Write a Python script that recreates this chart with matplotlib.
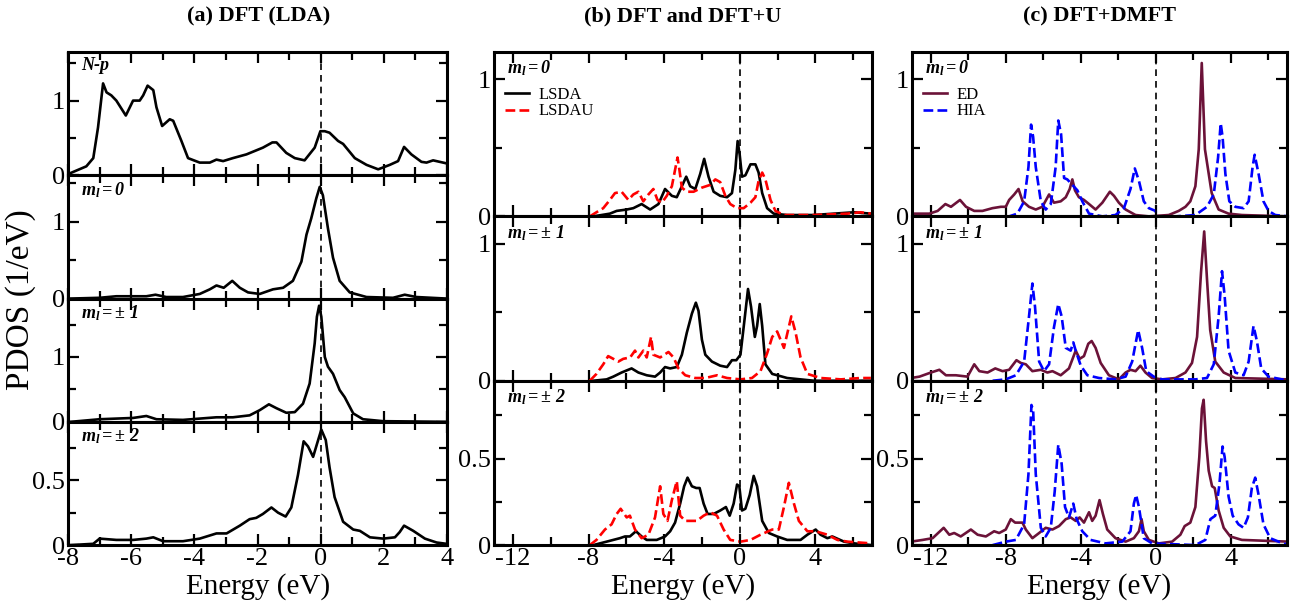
import matplotlib
matplotlib.use('Agg')
import matplotlib.pyplot as plt
from matplotlib.ticker import MultipleLocator, FuncFormatter

plt.rcParams['font.family'] = 'Liberation Serif'
plt.rcParams['mathtext.fontset'] = 'custom'
plt.rcParams['mathtext.rm'] = 'Liberation Serif:italic:bold'
plt.rcParams['mathtext.it'] = 'Liberation Serif:italic:bold'
plt.rcParams['mathtext.bf'] = 'Liberation Serif:italic:bold'
plt.rcParams['axes.unicode_minus'] = False

# ---- (a) DFT (LDA) ----
a_np_E = [-7.92, -7.42, -7.2, -7.05, -6.89, -6.78, -6.63, -6.47, -6.17, -5.94, -5.73, -5.62, -5.48, -5.3, -5.2,
          -5.02, -4.78, -4.67, -4.41, -4.2, -3.83, -3.51, -3.3, -3.09, -2.78, -2.35, -1.83, -1.53, -1.4, -1.09,
          -0.82, -0.51, -0.19, -0.01, 0.13, 0.28, 0.55, 0.71, 1.08, 1.45, 1.82, 2.19, 2.45, 2.64, 2.87, 3.19,
          3.35, 3.56, 3.98]
a_np = [0.03, 0.12, 0.23, 0.64, 1.23, 1.11, 1.07, 1.0, 0.8, 1.0, 1.0, 1.07, 1.2, 1.14, 0.91,
        0.66, 0.75, 0.73, 0.46, 0.23, 0.17, 0.17, 0.21, 0.19, 0.23, 0.28, 0.37, 0.44, 0.44, 0.3,
        0.23, 0.2, 0.37, 0.59, 0.59, 0.57, 0.46, 0.42, 0.23, 0.14, 0.08, 0.14, 0.19, 0.38, 0.28, 0.18,
        0.17, 0.2, 0.16]

a_m0_E = [-7.92, -7.0, -6.47, -5.94, -5.52, -5.23, -4.89, -4.36, -3.83, -3.51, -3.3, -3.07, -2.8, -2.56, -2.3,
          -1.93, -1.51, -1.19, -0.88, -0.61, -0.45, -0.3, -0.14, -0.03, 0.07, 0.23, 0.39, 0.6, 0.92, 1.45,
          2.29, 2.66, 3.03, 3.98]
a_m0 = [0.0, 0.01, 0.03, 0.03, 0.03, 0.05, 0.02, 0.02, 0.06, 0.12, 0.17, 0.14, 0.23, 0.14, 0.08,
        0.06, 0.12, 0.14, 0.23, 0.48, 0.83, 1.04, 1.3, 1.45, 1.34, 0.91, 0.53, 0.23, 0.08, 0.02,
        0.01, 0.05, 0.02, 0.0]

a_m1_E = [-7.92, -7.0, -6.47, -5.94, -5.52, -5.2, -4.36, -3.3, -2.78, -2.25, -1.93, -1.64, -1.4, -1.09, -0.82,
          -0.56, -0.35, -0.19, -0.12, -0.05, 0.02, 0.13, 0.23, 0.39, 0.6, 0.76, 1.03, 1.34, 1.98, 3.98]
a_m1 = [0.0, 0.04, 0.05, 0.06, 0.09, 0.04, 0.03, 0.07, 0.07, 0.1, 0.18, 0.27, 0.21, 0.14, 0.15,
        0.28, 0.59, 1.21, 1.62, 1.79, 1.62, 1.0, 0.85, 0.74, 0.49, 0.38, 0.13, 0.04, 0.01, 0.0]

a_m2_E = [-7.92, -7.2, -7.0, -6.47, -5.94, -5.52, -5.3, -4.99, -4.36, -3.83, -3.3, -2.98, -2.56, -2.25, -2.04,
          -1.83, -1.56, -1.35, -1.11, -0.93, -0.72, -0.54, -0.4, -0.24, -0.08, 0.02, 0.16, 0.28, 0.44, 0.71,
          1.03, 1.24, 1.56, 1.98, 2.35, 2.5, 2.64, 2.93, 3.3, 3.67, 3.98]
a_m2 = [0.0, 0.01, 0.05, 0.04, 0.04, 0.05, 0.06, 0.03, 0.03, 0.05, 0.09, 0.09, 0.15, 0.2, 0.21,
        0.24, 0.29, 0.25, 0.22, 0.29, 0.54, 0.8, 0.76, 0.68, 0.81, 0.89, 0.81, 0.6, 0.37, 0.18,
        0.12, 0.11, 0.06, 0.05, 0.06, 0.1, 0.15, 0.11, 0.05, 0.02, 0.01]

# ---- (b) DFT and DFT+U ----
b0_lsda_E = [-7.75, -6.87, -6.51, -5.98, -5.63, -5.19, -4.74, -4.3, -3.95, -3.59, -3.33, -3.06, -2.83, -2.62,
             -2.35, -2.09, -1.88, -1.65, -1.38, -1.03, -0.67, -0.41, -0.23, -0.11, 0.0, 0.12, 0.3, 0.57, 0.83,
             1.0, 1.19, 1.45, 1.8, 2.5, 3.9, 6.05, 6.94]
b0_lsda = [0.0, 0.02, 0.04, 0.05, 0.06, 0.09, 0.05, 0.09, 0.2, 0.15, 0.14, 0.22, 0.29, 0.22,
           0.2, 0.31, 0.42, 0.29, 0.18, 0.15, 0.14, 0.17, 0.34, 0.55, 0.45, 0.29, 0.3, 0.38, 0.38,
           0.32, 0.17, 0.06, 0.02, 0.01, 0.01, 0.03, 0.02]
b0_lsdau_E = [-7.93, -7.58, -7.22, -6.87, -6.6, -6.25, -5.89, -5.63, -5.36, -5.1, -4.83, -4.57, -4.35, -4.12,
              -3.86, -3.59, -3.42, -3.29, -3.19, -3.06, -2.8, -2.44, -2.0, -1.56, -1.29, -1.03, -0.76, -0.5,
              -0.14, 0.21, 0.57, 0.83, 1.0, 1.19, 1.36, 1.63, 1.89, 2.34, 3.93, 5.7, 6.4, 6.94]
b0_lsdau = [0.0, 0.03, 0.06, 0.12, 0.17, 0.18, 0.12, 0.16, 0.18, 0.11, 0.16, 0.2, 0.12, 0.1,
            0.15, 0.22, 0.34, 0.43, 0.34, 0.21, 0.18, 0.18, 0.21, 0.23, 0.27, 0.25, 0.15, 0.09,
            0.06, 0.06, 0.1, 0.14, 0.26, 0.32, 0.27, 0.12, 0.04, 0.01, 0.01, 0.02, 0.03, 0.02]

b1_lsda_E = [-7.75, -7.04, -6.69, -6.25, -5.72, -5.36, -4.92, -4.48, -4.21, -3.95, -3.68, -3.33, -3.06, -2.8,
             -2.53, -2.32, -2.18, -2.0, -1.82, -1.47, -1.03, -0.67, -0.41, -0.18, 0.04, 0.25, 0.44, 0.6, 0.8,
             0.92, 1.06, 1.19, 1.36, 1.72, 2.51, 3.93, 6.94]
b1_lsda = [0.0, 0.01, 0.03, 0.06, 0.09, 0.06, 0.04, 0.03, 0.06, 0.1, 0.09, 0.1, 0.19, 0.35,
           0.49, 0.57, 0.51, 0.3, 0.19, 0.14, 0.11, 0.1, 0.15, 0.15, 0.19, 0.44, 0.67, 0.54, 0.32,
           0.4, 0.56, 0.4, 0.12, 0.05, 0.02, 0.0, 0.0]
b1_lsdau_E = [-7.93, -7.58, -7.22, -6.96, -6.69, -6.42, -6.16, -5.8, -5.54, -5.36, -5.1, -4.92, -4.69, -4.57,
              -4.21, -3.77, -3.5, -3.24, -2.88, -2.35, -1.82, -1.2, -0.67, 0.04, 0.65, 1.1, 1.45, 1.72, 1.98,
              2.34, 2.73, 2.96, 3.22, 3.58, 4.28, 5.35, 6.4, 6.94]
b1_lsdau = [0.0, 0.05, 0.12, 0.18, 0.16, 0.14, 0.16, 0.17, 0.22, 0.17, 0.22, 0.17, 0.32, 0.19,
            0.17, 0.21, 0.17, 0.09, 0.04, 0.02, 0.02, 0.04, 0.02, 0.01, 0.02, 0.07, 0.2, 0.32, 0.36,
            0.24, 0.47, 0.35, 0.17, 0.05, 0.02, 0.01, 0.02, 0.02]

b2_lsda_E = [-7.75, -7.04, -6.69, -6.34, -6.07, -5.81, -5.49, -5.19, -4.92, -4.39, -3.95, -3.68, -3.42, -3.15,
             -2.94, -2.76, -2.53, -2.3, -2.12, -1.91, -1.7, -1.38, -1.03, -0.73, -0.53, -0.32, -0.14, -0.02,
             0.12, 0.3, 0.53, 0.74, 0.92, 1.19, 1.54, 1.98, 2.51, 3.22, 3.58, 4.02, 4.28, 4.64, 4.9, 5.52,
             6.05, 6.94]
b2_lsda = [0.0, 0.02, 0.03, 0.04, 0.05, 0.05, 0.08, 0.05, 0.03, 0.03, 0.05, 0.08, 0.13, 0.24,
           0.34, 0.39, 0.34, 0.33, 0.33, 0.24, 0.18, 0.18, 0.2, 0.22, 0.17, 0.24, 0.35, 0.34,
           0.2, 0.21, 0.29, 0.4, 0.34, 0.14, 0.07, 0.05, 0.03, 0.03, 0.06, 0.09, 0.06, 0.04, 0.05, 0.02,
           0.01, 0.0]
b2_lsdau_E = [-7.93, -7.58, -7.13, -6.78, -6.51, -6.3, -5.98, -5.81, -5.54, -5.19, -4.83, -4.48, -4.21, -4.04,
              -3.82, -3.59, -3.33, -3.15, -2.88, -2.27, -1.91, -1.56, -1.2, -0.85, -0.5, 0.04, 0.57, 1.1,
              1.72, 2.07, 2.34, 2.6, 2.87, 3.13, 3.58, 4.02, 4.64, 5.17, 5.7, 6.94]
b2_lsdau = [0.0, 0.03, 0.09, 0.12, 0.18, 0.21, 0.16, 0.17, 0.09, 0.04, 0.06, 0.16, 0.34, 0.18,
            0.14, 0.26, 0.37, 0.17, 0.14, 0.14, 0.17, 0.19, 0.17, 0.09, 0.03, 0.02, 0.03, 0.06,
            0.09, 0.09, 0.22, 0.36, 0.24, 0.14, 0.08, 0.08, 0.06, 0.03, 0.02, 0.01]

# ---- (c) DFT+DMFT ----
c0_ed_E = [-13.05, -12.6, -12.07, -11.63, -11.22, -10.92, -10.44, -10.12, -9.68, -9.24, -8.71, -8.26, -8.0,
           -7.82, -7.55, -7.32, -7.1, -6.76, -6.4, -6.05, -5.69, -5.43, -5.07, -4.8, -4.59, -4.45, -4.31, -4.1,
           -3.83, -3.56, -3.21, -2.85, -2.45, -2.23, -1.97, -1.61, -1.08, -0.37, 0.69, 1.22, 1.58, 1.84, 2.11,
           2.29, 2.45, 2.62, 2.98, 3.35, 3.88, 4.59, 7.0]
c0_ed = [0.02, 0.02, 0.02, 0.04, 0.09, 0.07, 0.12, 0.07, 0.04, 0.04, 0.06, 0.07, 0.07,
         0.12, 0.16, 0.2, 0.11, 0.07, 0.05, 0.07, 0.16, 0.1, 0.11, 0.14, 0.2, 0.27, 0.19, 0.14,
         0.12, 0.09, 0.05, 0.1, 0.18, 0.15, 0.1, 0.05, 0.01, 0.0, 0.01, 0.04, 0.07, 0.11, 0.22,
         0.49, 1.12, 0.49, 0.17, 0.05, 0.02, 0.01, 0.0]
c0_hia_E = [-8.7, -7.82, -7.38, -7.02, -6.79, -6.65, -6.54, -6.4, -6.13, -5.87, -5.6, -5.34, -5.2, -5.05,
            -4.89, -4.72, -4.45, -4.18, -3.92, -3.56, -2.85, -2.15, -1.7, -1.35, -1.12, -0.9, -0.64, -0.37,
            -0.02, 0.07, 1.05, 2.11, 2.73, 3.09, 3.32, 3.46, 3.56, 3.71, 3.92, 4.24, 4.68, 4.95, 5.16, 5.27,
            5.48, 5.74, 6.01, 6.37, 7.07]
c0_hia = [0.0, 0.0, 0.02, 0.11, 0.36, 0.67, 0.58, 0.36, 0.11, 0.05, 0.09, 0.36, 0.7, 0.6,
          0.28, 0.27, 0.23, 0.19, 0.11, 0.02, 0.0, 0.01, 0.06, 0.2, 0.35, 0.26, 0.11, 0.06,
          0.04, 0.0, 0.0, 0.01, 0.07, 0.16, 0.43, 0.68, 0.58, 0.31, 0.11, 0.07, 0.06, 0.11, 0.36, 0.45,
          0.31, 0.11, 0.04, 0.01, 0.0]

c1_ed_E = [-13.05, -12.6, -11.99, -11.54, -11.19, -10.66, -10.04, -9.68, -9.41, -8.97, -8.56, -8.17, -7.82,
           -7.43, -7.2, -6.93, -6.58, -6.13, -5.78, -5.51, -5.07, -4.63, -4.27, -4.06, -3.83, -3.6, -3.42,
           -3.21, -2.94, -2.5, -1.97, -1.61, -1.35, -1.08, -0.82, -0.55, -0.2, 0.34, 1.05, 1.58, 1.93, 2.2,
           2.41, 2.58, 2.73, 2.9, 3.17, 3.62, 4.24, 7.07]
c1_ed = [0.02, 0.03, 0.06, 0.08, 0.04, 0.04, 0.03, 0.12, 0.07, 0.06, 0.09, 0.07, 0.08,
         0.15, 0.13, 0.12, 0.07, 0.08, 0.06, 0.07, 0.04, 0.09, 0.22, 0.16, 0.18, 0.27, 0.29,
         0.24, 0.13, 0.04, 0.01, 0.06, 0.08, 0.07, 0.11, 0.06, 0.02, 0.01, 0.02, 0.06, 0.13, 0.32,
         0.79, 1.09, 0.74, 0.37, 0.14, 0.06, 0.02, 0.01]
c1_hia_E = [-8.7, -8.0, -7.46, -7.02, -6.76, -6.58, -6.44, -6.22, -5.96, -5.69, -5.43, -5.2, -5.02, -4.8,
            -4.54, -4.4, -4.27, -4.0, -3.65, -3.03, -2.15, -1.61, -1.26, -0.94, -0.73, -0.51, -0.11, 0.34,
            2.11, 2.73, 3.09, 3.35, 3.53, 3.67, 3.88, 4.24, 4.68, 4.95, 5.21, 5.39, 5.62, 6.01, 7.07]
c1_hia = [0.0, 0.01, 0.04, 0.14, 0.47, 0.71, 0.54, 0.14, 0.07, 0.12, 0.39, 0.56, 0.47, 0.24,
          0.22, 0.28, 0.22, 0.11, 0.04, 0.02, 0.01, 0.03, 0.14, 0.37, 0.24, 0.07, 0.03, 0.01,
          0.01, 0.02, 0.12, 0.47, 0.8, 0.62, 0.22, 0.06, 0.04, 0.14, 0.4, 0.29, 0.09, 0.03, 0.0]

c2_ed_E = [-13.05, -12.43, -11.9, -11.31, -11.01, -10.75, -10.4, -9.86, -9.5, -9.06, -8.62, -8.35, -8.0,
           -7.73, -7.5, -7.11, -6.93, -6.58, -6.22, -5.87, -5.51, -5.16, -4.8, -4.54, -4.27, -4.06, -3.83,
           -3.56, -3.39, -3.21, -3.0, -2.82, -2.59, -2.15, -1.61, -1.17, -0.9, -0.76, -0.64, -0.37, 0.16,
           0.87, 1.31, 1.54, 1.84, 2.11, 2.32, 2.46, 2.55, 2.68, 2.82, 3.0, 3.14, 3.35, 3.62, 3.97, 4.59,
           7.07]
c2_ed = [0.02, 0.03, 0.04, 0.1, 0.06, 0.07, 0.05, 0.09, 0.06, 0.05, 0.08, 0.07, 0.09,
         0.15, 0.13, 0.13, 0.09, 0.04, 0.07, 0.1, 0.09, 0.11, 0.15, 0.16, 0.14, 0.16, 0.13,
         0.19, 0.14, 0.17, 0.26, 0.18, 0.09, 0.04, 0.02, 0.04, 0.08, 0.15, 0.08, 0.03, 0.01,
         0.02, 0.06, 0.11, 0.13, 0.22, 0.51, 0.79, 0.84, 0.6, 0.43, 0.34, 0.33, 0.2, 0.1, 0.05, 0.03,
         0.02]
c2_hia_E = [-8.7, -8.0, -7.46, -7.02, -6.79, -6.63, -6.54, -6.4, -6.13, -5.87, -5.6, -5.39, -5.2, -5.02,
            -4.84, -4.63, -4.4, -4.22, -3.92, -3.48, -2.68, -1.79, -1.35, -1.17, -1.05, -0.9, -0.64, -0.2,
            2.11, 2.64, 2.91, 3.17, 3.39, 3.56, 3.67, 3.88, 4.1, 4.41, 4.68, 4.91, 5.12, 5.3, 5.48, 5.74,
            6.1, 6.54, 7.07]
c2_hia = [0.0, 0.02, 0.03, 0.12, 0.41, 0.81, 0.78, 0.41, 0.1, 0.05, 0.1, 0.31, 0.58, 0.47,
          0.22, 0.16, 0.24, 0.15, 0.08, 0.03, 0.01, 0.02, 0.08, 0.24, 0.29, 0.22, 0.04, 0.01,
          0.0, 0.03, 0.15, 0.17, 0.35, 0.57, 0.51, 0.28, 0.17, 0.12, 0.1, 0.16, 0.33, 0.39, 0.29, 0.12,
          0.04, 0.02, 0.0]

col_a = [(a_np_E, a_np, 'N-p', 1.65, 1, 0.5), (a_m0_E, a_m0, r'$m_l = 0$', 1.6, 1, 0.5),
         (a_m1_E, a_m1, r'$m_l = \pm\ 1$', 1.9, 1, 0.5), (a_m2_E, a_m2, r'$m_l = \pm\ 2$', 0.95, 0.5, 0.25)]
col_b = [(b0_lsda_E, b0_lsda, b0_lsdau_E, b0_lsdau, r'$m_l = 0$', 1.2, 1, 0.5),
         (b1_lsda_E, b1_lsda, b1_lsdau_E, b1_lsdau, r'$m_l = \pm\ 1$', 1.2, 1, 0.5),
         (b2_lsda_E, b2_lsda, b2_lsdau_E, b2_lsdau, r'$m_l = \pm\ 2$', 0.95, 0.5, 0.25)]
col_c = [(c0_ed_E, c0_ed, c0_hia_E, c0_hia, r'$m_l = 0$', 1.2, 1, 0.5),
         (c1_ed_E, c1_ed, c1_hia_E, c1_hia, r'$m_l = \pm\ 1$', 1.2, 1, 0.5),
         (c2_ed_E, c2_ed, c2_hia_E, c2_hia, r'$m_l = \pm\ 2$', 0.95, 0.5, 0.25)]

fmt = FuncFormatter(lambda v, p: '%g' % v)


def style(ax, xlim, xmaj, xmin, ytop, ymaj, ymin, bottom):
    ax.set_xlim(xlim)
    ax.set_ylim(0, ytop)
    ax.xaxis.set_major_locator(MultipleLocator(xmaj))
    ax.xaxis.set_minor_locator(MultipleLocator(xmin))
    ax.yaxis.set_major_locator(MultipleLocator(ymaj))
    ax.yaxis.set_minor_locator(MultipleLocator(ymin))
    ax.xaxis.set_major_formatter(fmt)
    ax.yaxis.set_major_formatter(fmt)
    ax.tick_params(which='both', direction='in', top=True, right=True, width=1.6,
                   labelsize=19, labelbottom=bottom, pad=2)
    ax.tick_params(which='major', length=8)
    ax.tick_params(which='minor', length=6)
    for s in ax.spines.values():
        s.set_linewidth(2.2)
    ax.axvline(0, color='k', ls=(0, (4, 3)), lw=1.2)


fig = plt.figure(figsize=(12.98, 6.05), dpi=100)
top, bot = 0.914, 0.099

h = (top - bot) / 4
for i, (E, y, lab, ytop, ymaj, ymin) in enumerate(col_a):
    ax = fig.add_axes([0.0524, top - (i + 1) * h, 0.292, h])
    ax.plot(E, y, color='k', lw=1.9)
    style(ax, (-8, 4), 2, 1, ytop, ymaj, ymin, i == 3)
    ax.text(0.035, 0.96, lab, transform=ax.transAxes, ha='left', va='top', fontsize=13,
            fontweight='bold', fontstyle='italic')

h = (top - bot) / 3
for col, left, width, c1, c2, ls2, names in [
        (col_b, 0.3806, 0.2912, 'k', 'red', '--', ('LSDA', 'LSDAU')),
        (col_c, 0.7026, 0.289, '#6b1238', 'blue', '--', ('ED', 'HIA'))]:
    for i, (E1, y1, E2, y2, lab, ytop, ymaj, ymin) in enumerate(col):
        ax = fig.add_axes([left, top - (i + 1) * h, width, h])
        ax.plot(E1, y1, color=c1, lw=1.9, label=names[0])
        ax.plot(E2, y2, color=c2, lw=1.9, ls=ls2, label=names[1])
        style(ax, (-13, 7), 4, 2, ytop, ymaj, ymin, i == 2)
        ax.text(0.035, 0.96, lab, transform=ax.transAxes, ha='left', va='top', fontsize=13)
        if i == 0:
            ax.legend(loc='upper left', bbox_to_anchor=(0.03, 0.79), frameon=False, fontsize=12,
                      handlelength=1.4, handletextpad=0.6, labelspacing=0.05, borderpad=0,
                      borderaxespad=0)

fig.text(0.016, 0.504, 'PDOS (1/eV)', rotation=90, ha='center', va='center', fontsize=24)
for xc, t in [(0.199, '(a) DFT (LDA)'), (0.526, '(b) DFT and DFT+U'), (0.847, '(c) DFT+DMFT')]:
    fig.text(xc, 0.972, t, ha='center', va='center', fontsize=16, fontweight='bold')
    fig.text(xc, 0.03, 'Energy (eV)', ha='center', va='center', fontsize=21)

fig.savefig('out.png', dpi=100)
